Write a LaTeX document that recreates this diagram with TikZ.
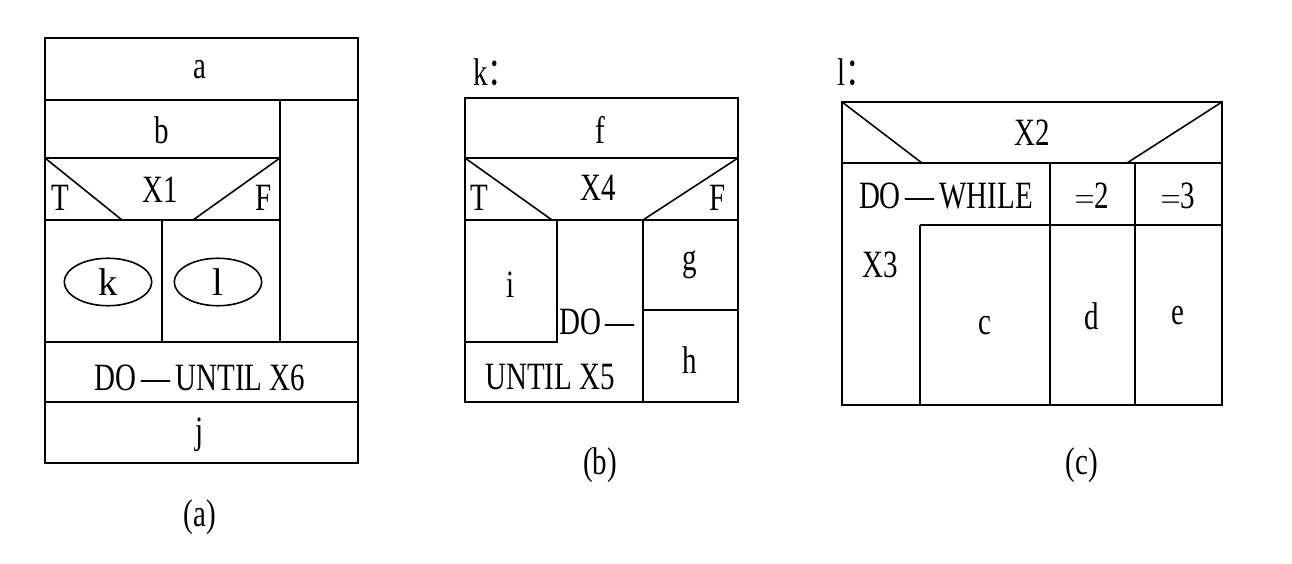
\documentclass[tikz,border=0pt]{standalone}
\usepackage{fontspec}
\setmainfont{Liberation Serif}
\newfontfamily\cjk{Noto Sans CJK SC}
\usetikzlibrary{positioning,shapes.geometric}
\begin{document}
\begin{tikzpicture}
        [x=0.02cm, y=-0.02cm, line width=0.9pt,
         lbl/.style={font=\fontsize{22}{24}\selectfont, xscale=0.75, inner sep=0pt},
         oval/.style={draw, ellipse, minimum width=1.75cm, minimum height=0.95cm, inner sep=0pt, font=\fontsize{22}{24}\selectfont}]
        \useasboundingbox (0,0) rectangle (1292,564);

        % (a)
        \draw (45,38) rectangle (358,463);
        \draw (45,100) -- (358,100);
        \draw (45,158) -- (280,158);
        \draw (280,100) -- (280,342);
        \draw (45,220) -- (280,220);
        \draw (45,158) -- (122,220);
        \draw (280,158) -- (193,220);
        \draw (162,220) -- (162,342);
        \draw (45,342) -- (358,342);
        \draw (45,402) -- (358,402);
        \node[lbl] (a) at (200,70) {a};
        \node[lbl] (b) at (162,130) {b};
        \node[lbl] (x1) at (160,190) {X1};
        \node[lbl] (ta) at (60,198) {T};
        \node[lbl] (fa) at (264,198) {F};
        \node[oval] (k) at (108,282) {k};
        \node[oval] (l) at (218,282) {l};
        \node[lbl] (x6) at (200,378) {DO\,---\,UNTIL X6};
        \node[lbl] (j) at (200,435) {j};
        \node[lbl] (capa) at (200,517) {(a)};

        % (b)
        \node[lbl] (kk) at (495,72) {k{\cjk ：}};
        \draw (465,98) rectangle (738,402);
        \draw (465,158) -- (738,158);
        \draw (465,220) -- (738,220);
        \draw (465,158) -- (552,220);
        \draw (738,158) -- (643,220);
        \draw (557,220) -- (557,342) -- (465,342);
        \draw (643,220) -- (643,402);
        \draw (643,310) -- (738,310);
        \node[lbl] (f) at (600,130) {f};
        \node[lbl] (x4) at (598,188) {X4};
        \node[lbl] (tb) at (479,198) {T};
        \node[lbl] (fb) at (718,198) {F};
        \node[lbl] (i) at (511,285) {i};
        \node[lbl] (g) at (690,265) {g};
        \node[lbl] (h) at (690,360) {h};
        \node[lbl] (do) at (597,322) {DO\,---};
        \node[lbl] (x5) at (550,377) {UNTIL X5};
        \node[lbl] (capb) at (600,465) {(b)};

        % (c)
        \node[lbl] (ll) at (856,72) {l{\cjk ：}};
        \draw (842,102) rectangle (1222,405);
        \draw (842,163) -- (1222,163);
        \draw (842,102) -- (922,163);
        \draw (1222,102) -- (1127,163);
        \draw (920,225) -- (1222,225);
        \draw (920,225) -- (920,405);
        \draw (1050,163) -- (1050,405);
        \draw (1135,163) -- (1135,405);
        \node[lbl] (x2) at (1032,133) {X2};
        \node[lbl] (dw) at (946,196) {DO\,---\,WHILE};
        \node[lbl] (e2) at (1092,196) {$=$2};
        \node[lbl] (e3) at (1178,196) {$=$3};
        \node[lbl] (x3) at (880,265) {X3};
        \node[lbl] (c) at (985,326) {c};
        \node[lbl] (d) at (1092,316) {d};
        \node[lbl] (e) at (1178,316) {e};
        \node[lbl] (capc) at (1082,465) {(c)};
\end{tikzpicture}
\end{document}
